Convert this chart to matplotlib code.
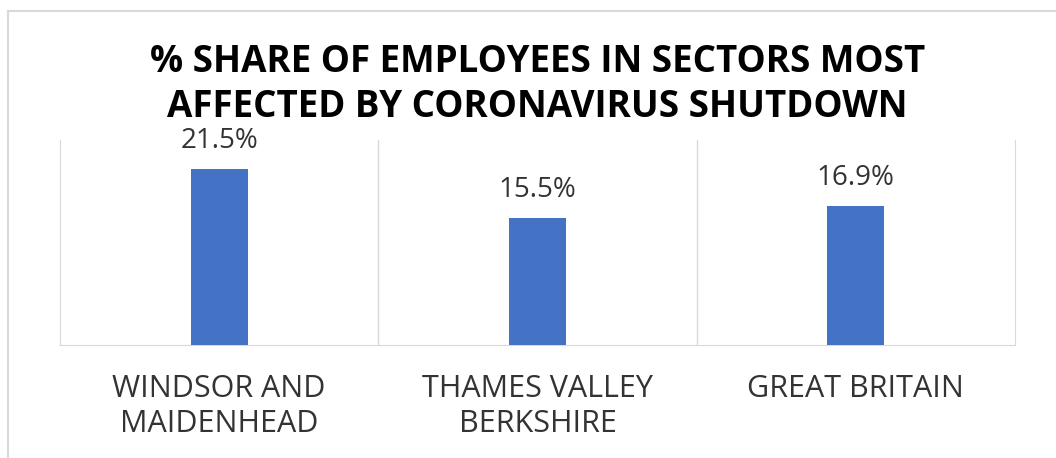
import matplotlib
matplotlib.use("Agg")
import matplotlib.pyplot as plt
from matplotlib.lines import Line2D

# chart data
categories = ["WINDSOR AND\nMAIDENHEAD", "THAMES VALLEY\nBERKSHIRE", "GREAT BRITAIN"]
shares = [21.5, 15.5, 16.9]
title = "% SHARE OF EMPLOYEES IN SECTORS MOST\nAFFECTED BY CORONAVIRUS SHUTDOWN"

bar_color = "#4472c4"
grid_color = "#d9d9d9"
text_color = "#333333"

plt.rcParams["font.family"] = ["Open Sans", "DejaVu Sans"]

fig = plt.figure(figsize=(10.56, 4.58), dpi=100)
ax = fig.add_axes([60 / 1056, 1 - 345 / 458, 955 / 1056, 205 / 458])

x = list(range(len(categories)))
ax.bar(x, shares, width=0.18, color=bar_color, zorder=3)
for xi, v in zip(x, shares):
    ax.text(xi, v + 1.7, f"{v:.1f}%", ha="center", va="bottom",
            fontsize=20, color=text_color)

ax.set_xlim(-0.5, len(categories) - 0.5)
ax.set_ylim(0, 25)
ax.set_yticks([])
ax.set_xticks(x)
ax.set_xticklabels(categories, fontsize=22, color=text_color, linespacing=1.22)
ax.tick_params(axis="x", length=0, pad=21)

# vertical separators between categories
for b in [0.5, 1.5]:
    ax.axvline(b, color=grid_color, lw=1, zorder=1)
for s in ["left", "right", "bottom"]:
    ax.spines[s].set_color(grid_color)
ax.spines["top"].set_visible(False)

ax.text(0.5, 1.475, title, transform=ax.transAxes, ha="center", va="top",
        fontsize=26.5, fontweight="bold", color="black", linespacing=1.25)

# outer frame
fig.add_artist(Line2D([8 / 1056, 1], [1 - 10.5 / 458] * 2, color=grid_color, lw=1.5))
fig.add_artist(Line2D([8 / 1056] * 2, [0, 1 - 10.5 / 458], color=grid_color, lw=1.5))

fig.savefig("out.png", dpi=100, facecolor="white")
